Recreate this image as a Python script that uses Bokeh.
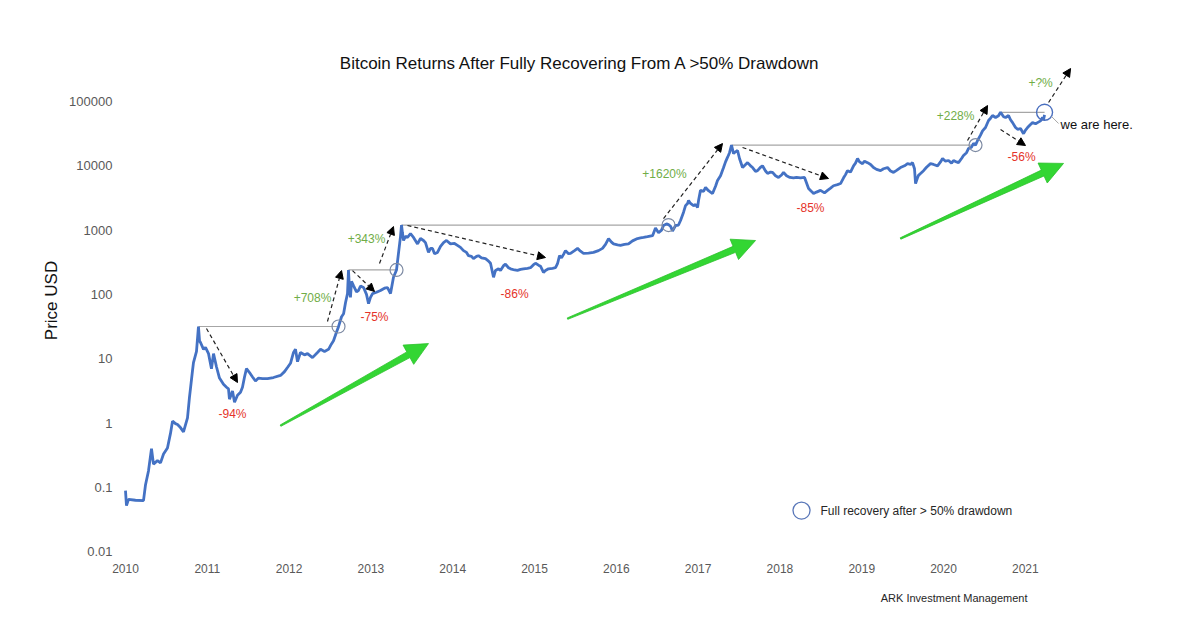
import math
from bokeh.plotting import figure
from bokeh.models import (Range1d, FixedTicker, CustomJSTickFormatter, Label,
                          Arrow, NormalHead, Title)
from bokeh.core.properties import value
from bokeh.embed import file_html
from bokeh.resources import INLINE

# ---------------- data ----------------
price_date = [
    2010.000, 2010.012, 2010.037, 2010.122, 2010.220, 2010.245, 2010.281, 2010.318, 2010.342, 2010.391,
    2010.428, 2010.465, 2010.513, 2010.550, 2010.575, 2010.611, 2010.636, 2010.672, 2010.709, 2010.758,
    2010.782, 2010.795, 2010.819, 2010.831, 2010.868, 2010.892, 2010.905, 2010.917, 2010.954, 2010.978,
    2011.015, 2011.051, 2011.076, 2011.112, 2011.149, 2011.198, 2011.235, 2011.259, 2011.271, 2011.308,
    2011.333, 2011.369, 2011.406, 2011.430, 2011.455, 2011.479, 2011.516, 2011.553, 2011.589, 2011.626,
    2011.675, 2011.736, 2011.809, 2011.895, 2011.944, 2011.980, 2012.017, 2012.054, 2012.078, 2012.103,
    2012.139, 2012.188, 2012.225, 2012.286, 2012.347, 2012.384, 2012.433, 2012.482, 2012.518, 2012.543,
    2012.580, 2012.604, 2012.641, 2012.666, 2012.690, 2012.714, 2012.726, 2012.738, 2012.750, 2012.763,
    2012.787, 2012.824, 2012.848, 2012.873, 2012.910, 2012.946, 2012.971, 2012.995, 2013.020, 2013.068,
    2013.117, 2013.166, 2013.203, 2013.240, 2013.276, 2013.313, 2013.337, 2013.362, 2013.374, 2013.386,
    2013.399, 2013.423, 2013.447, 2013.484, 2013.521, 2013.570, 2013.606, 2013.643, 2013.667, 2013.704,
    2013.729, 2013.753, 2013.778, 2013.814, 2013.851, 2013.888, 2013.924, 2013.973, 2014.022, 2014.058,
    2014.095, 2014.132, 2014.169, 2014.193, 2014.230, 2014.254, 2014.291, 2014.315, 2014.352, 2014.401,
    2014.438, 2014.462, 2014.499, 2014.523, 2014.560, 2014.584, 2014.621, 2014.645, 2014.682, 2014.707,
    2014.756, 2014.792, 2014.829, 2014.866, 2014.914, 2014.951, 2014.988, 2015.012, 2015.049, 2015.073,
    2015.110, 2015.134, 2015.171, 2015.220, 2015.257, 2015.281, 2015.306, 2015.330, 2015.355, 2015.379,
    2015.416, 2015.440, 2015.489, 2015.526, 2015.562, 2015.599, 2015.660, 2015.721, 2015.782, 2015.831,
    2015.868, 2015.905, 2015.941, 2015.966, 2016.015, 2016.051, 2016.100, 2016.149, 2016.198, 2016.259,
    2016.296, 2016.333, 2016.381, 2016.443, 2016.479, 2016.516, 2016.553, 2016.577, 2016.614, 2016.638,
    2016.663, 2016.687, 2016.724, 2016.760, 2016.785, 2016.822, 2016.846, 2016.871, 2016.883, 2016.907,
    2016.944, 2016.968, 2016.993, 2017.005, 2017.029, 2017.066, 2017.091, 2017.127, 2017.176, 2017.213,
    2017.237, 2017.274, 2017.311, 2017.335, 2017.359, 2017.384, 2017.408, 2017.433, 2017.457, 2017.482,
    2017.506, 2017.543, 2017.580, 2017.604, 2017.641, 2017.666, 2017.702, 2017.726, 2017.763, 2017.787,
    2017.824, 2017.849, 2017.885, 2017.910, 2017.946, 2017.983, 2018.020, 2018.044, 2018.081, 2018.122,
    2018.166, 2018.203, 2018.252, 2018.301, 2018.350, 2018.386, 2018.411, 2018.447, 2018.496, 2018.545,
    2018.582, 2018.619, 2018.655, 2018.704, 2018.741, 2018.778, 2018.802, 2018.826, 2018.863, 2018.900,
    2018.924, 2018.949, 2018.973, 2019.010, 2019.034, 2019.071, 2019.108, 2019.144, 2019.181, 2019.230,
    2019.267, 2019.315, 2019.352, 2019.389, 2019.426, 2019.474, 2019.523, 2019.560, 2019.597, 2019.621,
    2019.645, 2019.658, 2019.682, 2019.694, 2019.719, 2019.756, 2019.792, 2019.841, 2019.878, 2019.927,
    2019.963, 2019.988, 2020.024, 2020.061, 2020.098, 2020.122, 2020.159, 2020.183, 2020.220, 2020.244,
    2020.281, 2020.306, 2020.342, 2020.367, 2020.391, 2020.416, 2020.452, 2020.477, 2020.513, 2020.550,
    2020.575, 2020.599, 2020.636, 2020.672, 2020.697, 2020.734, 2020.758, 2020.795, 2020.819, 2020.844,
    2020.880, 2020.905, 2020.941, 2020.978, 2021.002, 2021.027, 2021.063, 2021.088, 2021.125, 2021.149,
    2021.186, 2021.210, 2021.222, 2021.235,
]
price_usd = [
    0.089, 0.052, 0.065, 0.063, 0.062, 0.11, 0.18, 0.40, 0.23, 0.26,
    0.24, 0.33, 0.41, 0.69, 1.07, 0.98, 0.95, 0.85, 0.73, 1.2,
    2.5, 3.5, 6.5, 8.7, 13, 31.7, 19, 17.9, 14, 15,
    12, 7, 12, 7.5, 5.0, 4.0, 3.6, 3.4, 2.35, 3.16,
    2.1, 2.7, 3.0, 3.6, 5.2, 7.0, 6.1, 5.2, 4.5, 5.0,
    4.9, 4.9, 5.1, 5.5, 6.3, 7.3, 8.5, 12.5, 14, 9.0,
    12.5, 11.5, 12, 10.4, 12.5, 14, 13, 14, 17, 19,
    26, 31.5, 45, 50, 75, 103, 240, 120, 90, 160,
    137, 110, 115, 135, 128, 100, 72, 90, 103, 108,
    115, 125, 128, 103, 185, 240, 435, 800, 1200, 900,
    690, 800, 770, 880, 770, 610, 740, 690, 640, 450,
    520, 520, 430, 450, 560, 640, 690, 610, 620, 580,
    540, 480, 450, 400, 390, 360, 390, 400, 370, 360,
    330, 305, 185, 236, 250, 236, 280, 295, 260, 250,
    240, 236, 245, 250, 255, 260, 290, 305, 285, 275,
    220, 235, 250, 255, 260, 300, 400, 370, 420, 480,
    430, 435, 480, 520, 470, 435, 440, 450, 480, 520,
    600, 740, 650, 610, 590, 580, 600, 610, 680, 740,
    760, 770, 790, 820, 1075, 910, 1000, 1180, 1250, 1220,
    1150, 970, 1180, 1200, 1410, 1900, 2400, 2600, 2880, 2600,
    2400, 2500, 2250, 2880, 4150, 4000, 4600, 4100, 3700, 4800,
    5900, 7000, 9400, 11500, 13500, 16000, 21000, 15500, 16500, 17300,
    13000, 9400, 10500, 11200, 10000, 9400, 8200, 8400, 9500, 10000,
    8300, 7600, 8000, 7900, 7000, 6600, 7200, 7900, 7000, 6600,
    6500, 6600, 6500, 6600, 4450, 4000, 3700, 3900, 4150, 3800,
    4150, 4500, 4900, 5100, 5300, 6500, 7300, 8400, 8000, 10000,
    11000, 13000, 11500, 10800, 11800, 11200, 10500, 9400, 8800, 8400,
    9000, 9400, 8300, 7900, 8500, 9400, 10000, 10800, 10500, 11200,
    9000, 5300, 6500, 7100, 7600, 8400, 9500, 10800, 10500, 10000,
    11500, 13000, 11800, 12100, 11000, 12100, 11500, 11200, 13000, 14500,
    16000, 18600, 19500, 22300, 21000, 24800, 30000, 35000, 39400, 50600,
    55000, 60500, 56400, 60000, 68000, 58000, 56400, 60500, 52000, 47000,
    39400, 37000, 38000, 31600, 36000, 39400, 44000, 47000, 45000, 47000,
    50000, 56400, 52000, 62000,
]

# previous all-time highs and the date each was fully recovered
peak_dates = [2010.892, 2012.726, 2013.374, 2017.408, 2020.697]
peak_prices = [31.7, 240, 1200, 21000, 68000]
recovery_dates = [2012.604, 2013.313, 2016.638, 2020.391, 2021.235]

gain_labels = ["+708%", "+343%", "+1620%", "+228%", "+?%"]
drawdown_labels = ["-94%", "-75%", "-86%", "-85%", "-56%"]

x_ticks = [2010, 2011, 2012, 2013, 2014, 2015, 2016, 2017, 2018, 2019, 2020, 2021]
x_tick_labels = [str(y) for y in x_ticks]
y_ticks = [0.01, 0.1, 1, 10, 100, 1000, 10000, 100000]
y_tick_labels = ["0.01", "0.1", "1", "10", "100", "1000", "10000", "100000"]

# ---------------- annotation positions ----------------
gain_label_x = [2012.286, 2012.946, 2016.589, 2020.147, 2021.186]
gain_label_y = [89.5, 740, 7330, 58500, 197000]
dd_label_x = [2011.308, 2013.044, 2014.756, 2018.374, 2020.954]
dd_label_y = [1.36, 45.3, 103, 2170, 13500]

gain_arrows = [  # (x0, y0, x1, y1)
    (2012.469, 37.9, 2012.641, 235),
    (2013.105, 303, 2013.276, 1137),
    (2016.577, 1514, 2017.298, 22200),
    (2020.293, 24700, 2020.538, 86600),
    (2021.284, 96500, 2021.553, 326000),
]
dd_arrows = [
    (2010.990, 29.5, 2011.369, 4.27),
    (2012.775, 235, 2013.044, 111),
    (2013.447, 1180, 2015.134, 375),
    (2017.543, 19300, 2018.594, 6350),
    (2020.697, 36700, 2021.002, 20700),
]
trend_arrows = [
    (2011.895, 0.91, 2013.704, 17.2),
    (2015.403, 42, 2017.702, 689),
    (2019.474, 740, 2021.467, 10900),
]

XR0, XR1 = 2009.939, 2022.53
LY0, LY1 = -2.06, 5.871
FW, FH = 1030, 510
SX = FW / (XR1 - XR0)
SY = FH / (LY1 - LY0)

BLUE = "#4472c4"
GREEN_TXT = "#70ad47"
RED_TXT = "#e5332a"
FONT = "Liberation Sans"

p = figure(
    frame_width=FW, frame_height=FH,
    min_border_left=120, min_border_right=34, min_border_top=45, min_border_bottom=64,
    x_range=Range1d(XR0, XR1),
    y_range=Range1d(10 ** LY0, 10 ** LY1),
    y_axis_type="log",
    output_backend="svg", toolbar_location=None,
    background_fill_color="white", border_fill_color="white",
)
p.outline_line_color = None
p.grid.grid_line_color = None

for ax in (p.xaxis[0], p.yaxis[0]):
    ax.axis_line_color = None
    ax.major_tick_line_color = None
    ax.minor_tick_line_color = None
    ax.major_tick_out = 0
    ax.major_tick_in = 0
    ax.minor_tick_out = 0
    ax.minor_tick_in = 0
    ax.major_label_text_color = "#595959"
    ax.major_label_text_font = FONT
    ax.major_label_standoff = 8

p.xaxis.ticker = FixedTicker(ticks=x_ticks)
p.xaxis.formatter = CustomJSTickFormatter(
    args=dict(vals=x_ticks, labels=x_tick_labels),
    code="const i = vals.indexOf(tick); return i >= 0 ? labels[i] : '';")
p.xaxis.major_label_text_font_size = "12px"
p.yaxis.ticker = FixedTicker(ticks=y_ticks)
p.yaxis.formatter = CustomJSTickFormatter(
    args=dict(vals=y_ticks, labels=y_tick_labels),
    code="const i = vals.indexOf(tick); return i >= 0 ? labels[i] : '';")
p.yaxis.major_label_text_font_size = "13px"
p.yaxis.axis_label = "Price USD"
p.yaxis.axis_label_text_font = FONT
p.yaxis.axis_label_text_font_size = "17px"
p.yaxis.axis_label_text_font_style = "normal"
p.yaxis.axis_label_text_color = "#111111"
p.yaxis.axis_label_standoff = 5

# source note below the plot (align right: positive offset moves it left)
p.add_layout(Title(text="ARK Investment Management", align="right", offset=123,
                   text_font=FONT, text_font_size="11px", text_font_style="normal",
                   text_color="#262626", standoff=29), "below")


def to_px(x, y):
    return (x - XR0) * SX, (math.log10(y) - LY0) * SY


def from_px(px, py):
    return XR0 + px / SX, 10 ** (LY0 + py / SY)


def tapered_arrow(x0, y0, x1, y1, w0=1.5, w1=6.5, head_len=23.0, head_half=11.0):
    ax_, ay_ = to_px(x0, y0)
    bx, by = to_px(x1, y1)
    dx, dy = bx - ax_, by - ay_
    L = math.hypot(dx, dy)
    ux, uy = dx / L, dy / L
    nx, ny = -uy, ux
    neckx, necky = bx - ux * head_len, by - uy * head_len
    pts = [
        (ax_ + nx * w0 / 2, ay_ + ny * w0 / 2),
        (neckx + nx * w1 / 2, necky + ny * w1 / 2),
        (neckx + nx * head_half, necky + ny * head_half),
        (bx, by),
        (neckx - nx * head_half, necky - ny * head_half),
        (neckx - nx * w1 / 2, necky - ny * w1 / 2),
        (ax_ - nx * w0 / 2, ay_ - ny * w0 / 2),
    ]
    conv = [from_px(a, b) for a, b in pts]
    return [c[0] for c in conv], [c[1] for c in conv]


# big green trend arrows
for (x0, y0, x1, y1) in trend_arrows:
    xs, ys = tapered_arrow(x0, y0, x1, y1)
    p.patch(xs, ys, fill_color="#33d633", line_color="#2cc02c", line_width=0.8)

# horizontal lines from each peak to its recovery
p.segment(x0=peak_dates, y0=peak_prices, x1=recovery_dates, y1=peak_prices,
          line_color="#a6a6a6", line_width=1.2)

# price line
p.line(price_date, price_usd, line_color=BLUE, line_width=2.8)

# recovery circles
p.scatter(recovery_dates[:-1], peak_prices[:-1], size=13, fill_color=None,
          line_color="#7d8aa3", line_width=1.2)
p.scatter(recovery_dates[-1:], peak_prices[-1:], size=16, fill_color=None,
          line_color="#4a6fbf", line_width=1.4)

# dashed arrows
for (x0, y0, x1, y1) in gain_arrows + dd_arrows:
    p.add_layout(Arrow(
        end=NormalHead(size=8, fill_color="black", line_color="black", line_width=1),
        x_start=x0, y_start=y0, x_end=x1, y_end=y1,
        line_color="#222222", line_width=1.2, line_dash="4 3"))

# percentage labels
p.text(x=gain_label_x, y=gain_label_y, text=gain_labels, text_color=GREEN_TXT,
       text_font=value(FONT), text_font_size="12px", text_align="center",
       text_baseline="middle")
p.text(x=dd_label_x, y=dd_label_y, text=drawdown_labels, text_color=RED_TXT,
       text_font=value(FONT), text_font_size="12px", text_align="center",
       text_baseline="middle")

# "we are here." note
p.line([2021.320, 2021.406], [58500, 45500], line_color="#a6a6a6", line_width=1)
p.add_layout(Label(x=2021.430, y=43900, text="we are here.", text_font=FONT,
                   text_font_size="13px", text_color="#111111", text_baseline="middle",
                   text_align="left"))

# legend
p.scatter([2018.264], [0.0435], size=17, fill_color=None, line_color="#5876b8", line_width=1.3)
p.add_layout(Label(x=2018.496, y=0.0435, text="Full recovery after > 50% drawdown",
                   text_font=FONT, text_font_size="12px", text_color="#262626",
                   text_baseline="middle", text_align="left"))

# title
p.add_layout(Label(x=2015.562, y=390000,
                   text="Bitcoin Returns After Fully Recovering From A >50% Drawdown",
                   text_font=FONT, text_font_size="17px", text_color="#111111",
                   text_align="center", text_baseline="middle"))

open("out.html", "w").write(file_html(p, INLINE))
